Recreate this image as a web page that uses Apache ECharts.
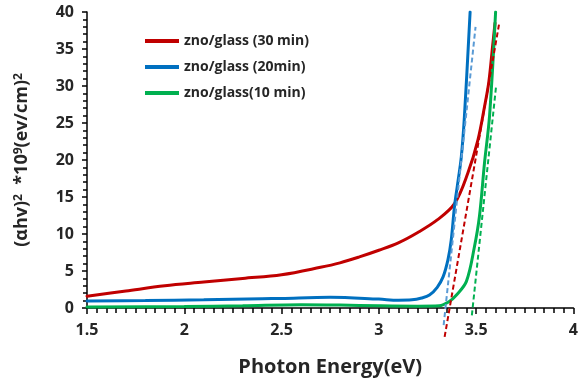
<!DOCTYPE html>
<html>
<head>
<meta charset="utf-8">
<script src="https://cdn.jsdelivr.net/npm/echarts@6/dist/echarts.min.js"></script>
<style>
  html, body { margin: 0; padding: 0; background: #fff; }
  #chart { width: 581px; height: 386px; }
</style>
</head>
<body>
<div id="chart"></div>
<script>
// values: [photon energy (eV), (αhv)^2 *10^9]
const red30 = [
  [1.5, 1.6], [1.7, 2.3], [1.9, 3.0], [2.1, 3.5], [2.3, 4.0], [2.5, 4.5],
  [2.7, 5.5], [2.8, 6.1], [2.9, 6.9], [3.0, 7.8], [3.1, 8.8], [3.2, 10.2],
  [3.3, 11.9], [3.389, 14.1], [3.457, 18.2], [3.509, 22.7], [3.543, 27.2],
  [3.565, 30.5], [3.585, 35.5], [3.597, 38.5],
];
const blue20 = [
  [1.5, 0.95], [1.8, 1.0], [2.1, 1.1], [2.4, 1.25], [2.5, 1.3], [2.75, 1.45],
  [3.0, 1.2], [3.1, 1.05], [3.17, 1.1], [3.22, 1.35], [3.26, 1.75], [3.3, 2.8],
  [3.33, 4.2], [3.355, 6.5], [3.372, 9.2], [3.389, 13.8], [3.405, 16.8],
  [3.424, 20.5], [3.44, 26], [3.469, 40],
];
const green10 = [
  [1.5, 0.15], [2.0, 0.2], [2.3, 0.3], [2.6, 0.45], [2.8, 0.4], [3.0, 0.3],
  [3.2, 0.25], [3.31, 0.3], [3.36, 0.85], [3.40, 1.8], [3.45, 3.6], [3.49, 8.1],
  [3.517, 12.4], [3.543, 19.6], [3.569, 26], [3.60, 40],
];
// tangent (extrapolation) lines
const redFit = [[3.338, -3.9], [3.62, 38.7]];
const blueFit = [[3.333, -2.3], [3.497, 38]];
const greenFit = [[3.478, -1.0], [3.603, 30.1]];

const names = ['zno/glass (30 min)', 'zno/glass (20min)', 'zno/glass(10 min)'];
const FONT = '"Open Sans", "DejaVu Sans", sans-serif';
const TXT = '#262626';

const chart = echarts.init(document.getElementById('chart'));

const solid = (name, data, color) => ({
  name, type: 'line', data, smooth: 0.35, symbol: 'none',
  lineStyle: { color, width: 3, cap: 'round' }, itemStyle: { color },
  z: 3,
});
const dashed = (data, color) => ({
  type: 'line', data, symbol: 'none', clip: false, silent: true,
  lineStyle: { color, width: 2, type: [5, 3] }, z: 4,
});
const txt = (size) => ({ fontFamily: FONT, fontWeight: 'bold', fontSize: size, color: TXT });

chart.setOption({
  animation: false,
  backgroundColor: '#fff',
  grid: { left: 87, right: 7, top: 12, bottom: 78 },
  legend: {
    data: names,
    orient: 'vertical',
    left: 140,
    top: 29,
    itemWidth: 34,
    itemHeight: 4,
    itemGap: 12,
    icon: 'rect',
    textStyle: txt(14),
  },
  xAxis: {
    type: 'value',
    min: 1.5, max: 4, interval: 0.5,
    name: 'Photon Energy(eV)',
    nameLocation: 'middle',
    nameGap: 49,
    nameTextStyle: txt(20),
    axisLine: { lineStyle: { color: '#000', width: 1.5 } },
    axisTick: { length: 6, lineStyle: { color: '#000', width: 1.5 } },
    minorTick: { show: true, splitNumber: 10, length: 5, lineStyle: { color: '#000', width: 1.5 } },
    axisLabel: Object.assign(txt(16), { margin: 14 }),
    splitLine: { show: false },
  },
  yAxis: {
    type: 'value',
    min: 0, max: 40, interval: 5,
    name: '(αhv){sup|2}  *10{sup|9}(ev/cm){sup|2}',
    nameLocation: 'middle',
    nameGap: 56,
    nameTextStyle: Object.assign(txt(18), {
      rich: { sup: Object.assign(txt(12), { verticalAlign: 'top' }) },
    }),
    axisLine: { show: true, lineStyle: { color: '#000', width: 1.5 } },
    axisTick: { length: 5, lineStyle: { color: '#000', width: 1.5 } },
    minorTick: { show: true, splitNumber: 5, length: 4, lineStyle: { color: '#000', width: 1.5 } },
    axisLabel: Object.assign(txt(16), { margin: 13 }),
    splitLine: { show: false },
  },
  series: [
    solid(names[0], red30, '#c00000'),
    solid(names[1], blue20, '#0070c0'),
    solid(names[2], green10, '#00b050'),
    dashed(redFit, '#c00000'),
    dashed(blueFit, '#5b9bd5'),
    dashed(greenFit, '#00b050'),
  ],
});
</script>
</body>
</html>
